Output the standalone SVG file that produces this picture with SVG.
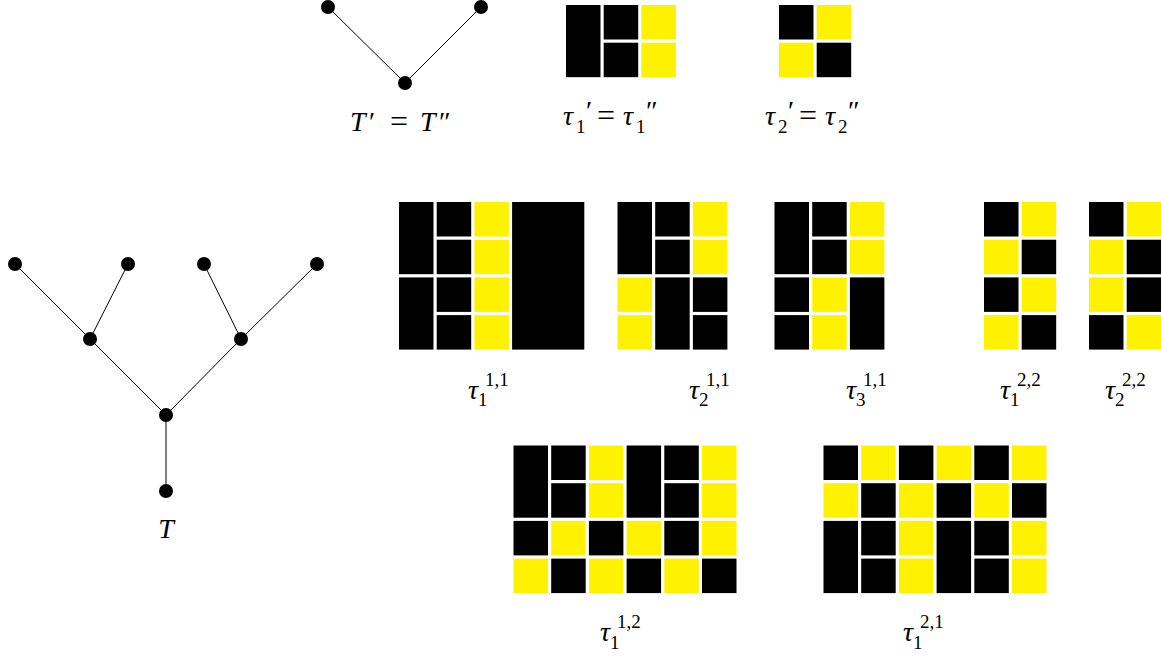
<svg xmlns="http://www.w3.org/2000/svg" xmlns:xlink="http://www.w3.org/1999/xlink" width="1161" height="657" viewBox="0 0 1161 657">
<style>
.b{fill:#000}
.y{fill:#fff200}
.e{stroke:#000;stroke-width:1;fill:none}
.n{fill:#000}
.m{font-family:"Liberation Serif","DejaVu Serif",serif;font-style:italic;font-size:28px;fill:#000}
.u{font-style:normal}
.q{font-style:normal;font-size:32px}
.s{font-style:normal;font-size:19px}
</style>
<defs>
<g id="k">
<rect class="b" x="0" y="0" width=".915" height="1.915"/>
<rect class="b" x="1" y="0" width=".915" height=".915"/>
<rect class="b" x="1" y="1" width=".915" height=".915"/>
<rect class="y" x="2" y="0" width=".915" height=".915"/>
<rect class="y" x="2" y="1" width=".915" height=".915"/>
</g>
</defs>
<rect width="1161" height="657" fill="#fff"/>

<g id="connectors">
<line class="e" x1="328" y1="7" x2="405" y2="83"/>
<line class="e" x1="481" y1="7" x2="405" y2="83"/>
<line class="e" x1="15" y1="264" x2="90" y2="339"/>
<line class="e" x1="128" y1="264" x2="90" y2="339"/>
<line class="e" x1="204" y1="264" x2="241" y2="339"/>
<line class="e" x1="317" y1="264" x2="241" y2="339"/>
<line class="e" x1="90" y1="339" x2="166" y2="415"/>
<line class="e" x1="241" y1="339" x2="166" y2="415"/>
<line class="e" x1="166" y1="415" x2="166" y2="491"/>
</g>

<g id="tree-Tprime">
<circle class="n" cx="328" cy="7" r="7"/>
<circle class="n" cx="481" cy="7" r="7"/>
<circle class="n" cx="405" cy="83" r="7"/>
<text class="m" font-size="29"><tspan x="350" y="131">T</tspan><tspan class="u" x="369" y="131">′</tspan><tspan class="q" x="390" y="132">=</tspan><tspan x="420" y="131">T</tspan><tspan class="u" x="439" y="131">″</tspan></text>
</g>

<g id="tree-T">
<circle class="n" cx="15" cy="264" r="7"/>
<circle class="n" cx="128" cy="264" r="7"/>
<circle class="n" cx="204" cy="264" r="7"/>
<circle class="n" cx="317" cy="264" r="7"/>
<circle class="n" cx="90" cy="339" r="7"/>
<circle class="n" cx="241" cy="339" r="7"/>
<circle class="n" cx="166" cy="415" r="7"/>
<circle class="n" cx="166" cy="491" r="7"/>
<text class="m" x="166" y="538" font-size="29" text-anchor="middle">T</text>
</g>

<g id="tau1p">
<g transform="translate(566,5) scale(37.7)">
<use xlink:href="#k"/>
</g>
<text class="m"><tspan x="563" y="125">τ</tspan><tspan class="s" x="576" y="133">1</tspan><tspan class="u" x="586" y="120">′</tspan><tspan class="q" x="597" y="126">=</tspan><tspan x="623" y="125">τ</tspan><tspan class="s" x="636" y="133">1</tspan><tspan class="u" x="646" y="120">″</tspan></text>
</g>

<g id="tau2p">
<g transform="translate(779,5) scale(37.7)">
<rect class="b" x="0" y="0" width=".915" height=".915"/>
<rect class="y" x="1" y="0" width=".915" height=".915"/>
<rect class="y" x="0" y="1" width=".915" height=".915"/>
<rect class="b" x="1" y="1" width=".915" height=".915"/>
</g>
<text class="m"><tspan x="765" y="125">τ</tspan><tspan class="s" x="778" y="133">2</tspan><tspan class="u" x="788" y="120">′</tspan><tspan class="q" x="799" y="126">=</tspan><tspan x="825" y="125">τ</tspan><tspan class="s" x="838" y="133">2</tspan><tspan class="u" x="848" y="120">″</tspan></text>
</g>

<g id="tau1-11">
<g transform="translate(399,202) scale(37.7)">
<use xlink:href="#k"/>
<use xlink:href="#k" y="2"/>
<rect class="b" x="3" y="0" width="1.915" height="3.915"/>
</g>
<text class="m"><tspan x="468" y="399">τ</tspan><tspan class="s" x="478" y="406">1</tspan><tspan class="s" x="485" y="386">1,1</tspan></text>
</g>

<g id="tau2-11">
<g transform="translate(617.5,202) scale(37.7)">
<use xlink:href="#k"/>
<rect class="y" x="0" y="2" width=".915" height=".915"/>
<rect class="y" x="0" y="3" width=".915" height=".915"/>
<rect class="b" x="1" y="2" width=".915" height="1.915"/>
<rect class="b" x="2" y="2" width=".915" height=".915"/>
<rect class="b" x="2" y="3" width=".915" height=".915"/>
</g>
<text class="m"><tspan x="689" y="399">τ</tspan><tspan class="s" x="699" y="406">2</tspan><tspan class="s" x="706" y="386">1,1</tspan></text>
</g>

<g id="tau3-11">
<g transform="translate(774.5,202) scale(37.7)">
<use xlink:href="#k"/>
<rect class="b" x="0" y="2" width=".915" height=".915"/>
<rect class="b" x="0" y="3" width=".915" height=".915"/>
<rect class="y" x="1" y="2" width=".915" height=".915"/>
<rect class="y" x="1" y="3" width=".915" height=".915"/>
<rect class="b" x="2" y="2" width=".915" height="1.915"/>
</g>
<text class="m"><tspan x="846" y="399">τ</tspan><tspan class="s" x="856" y="406">3</tspan><tspan class="s" x="863" y="386">1,1</tspan></text>
</g>

<g id="tau1-22">
<g transform="translate(984,202) scale(37.7)">
<rect class="b" x="0" y="0" width=".915" height=".915"/>
<rect class="y" x="1" y="0" width=".915" height=".915"/>
<rect class="y" x="0" y="1" width=".915" height=".915"/>
<rect class="b" x="1" y="1" width=".915" height=".915"/>
<rect class="b" x="0" y="2" width=".915" height=".915"/>
<rect class="y" x="1" y="2" width=".915" height=".915"/>
<rect class="y" x="0" y="3" width=".915" height=".915"/>
<rect class="b" x="1" y="3" width=".915" height=".915"/>
</g>
<text class="m"><tspan x="1000" y="399">τ</tspan><tspan class="s" x="1010" y="406">1</tspan><tspan class="s" x="1017" y="386">2,2</tspan></text>
</g>

<g id="tau2-22">
<g transform="translate(1089,202) scale(37.7)">
<rect class="b" x="0" y="0" width=".915" height=".915"/>
<rect class="y" x="1" y="0" width=".915" height=".915"/>
<rect class="y" x="0" y="1" width=".915" height=".915"/>
<rect class="b" x="1" y="1" width=".915" height=".915"/>
<rect class="y" x="0" y="2" width=".915" height=".915"/>
<rect class="b" x="1" y="2" width=".915" height=".915"/>
<rect class="b" x="0" y="3" width=".915" height=".915"/>
<rect class="y" x="1" y="3" width=".915" height=".915"/>
</g>
<text class="m"><tspan x="1105" y="399">τ</tspan><tspan class="s" x="1115" y="406">2</tspan><tspan class="s" x="1122" y="386">2,2</tspan></text>
</g>

<g id="tau1-12">
<g transform="translate(513.5,445.5) scale(37.7)">
<use xlink:href="#k"/>
<use xlink:href="#k" x="3"/>
<rect class="b" x="0" y="2" width=".915" height=".915"/>
<rect class="y" x="1" y="2" width=".915" height=".915"/>
<rect class="b" x="2" y="2" width=".915" height=".915"/>
<rect class="y" x="3" y="2" width=".915" height=".915"/>
<rect class="b" x="4" y="2" width=".915" height=".915"/>
<rect class="y" x="5" y="2" width=".915" height=".915"/>
<rect class="y" x="0" y="3" width=".915" height=".915"/>
<rect class="b" x="1" y="3" width=".915" height=".915"/>
<rect class="y" x="2" y="3" width=".915" height=".915"/>
<rect class="b" x="3" y="3" width=".915" height=".915"/>
<rect class="y" x="4" y="3" width=".915" height=".915"/>
<rect class="b" x="5" y="3" width=".915" height=".915"/>
</g>
<text class="m"><tspan x="600" y="641">τ</tspan><tspan class="s" x="610" y="649">1</tspan><tspan class="s" x="617" y="628">1,2</tspan></text>
</g>

<g id="tau1-21">
<g transform="translate(823.5,445.5) scale(37.7)">
<rect class="b" x="0" y="0" width=".915" height=".915"/>
<rect class="y" x="1" y="0" width=".915" height=".915"/>
<rect class="b" x="2" y="0" width=".915" height=".915"/>
<rect class="y" x="3" y="0" width=".915" height=".915"/>
<rect class="b" x="4" y="0" width=".915" height=".915"/>
<rect class="y" x="5" y="0" width=".915" height=".915"/>
<rect class="y" x="0" y="1" width=".915" height=".915"/>
<rect class="b" x="1" y="1" width=".915" height=".915"/>
<rect class="y" x="2" y="1" width=".915" height=".915"/>
<rect class="b" x="3" y="1" width=".915" height=".915"/>
<rect class="y" x="4" y="1" width=".915" height=".915"/>
<rect class="b" x="5" y="1" width=".915" height=".915"/>
<use xlink:href="#k" y="2"/>
<use xlink:href="#k" x="3" y="2"/>
</g>
<text class="m"><tspan x="903" y="641">τ</tspan><tspan class="s" x="913" y="649">1</tspan><tspan class="s" x="920" y="628">2,1</tspan></text>
</g>
</svg>
